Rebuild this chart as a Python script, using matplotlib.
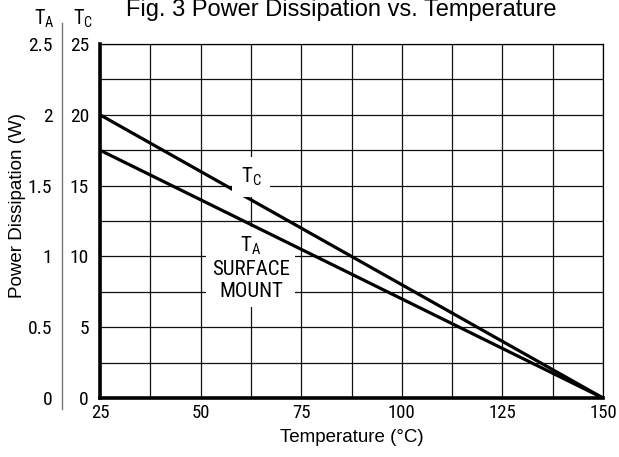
import matplotlib
matplotlib.use("Agg")
import matplotlib.pyplot as plt
from matplotlib import font_manager
from matplotlib.lines import Line2D
from matplotlib.ticker import MultipleLocator

installed = {f.name for f in font_manager.fontManager.ttflist}
narrow_name = next((n for n in ['Liberation Sans Narrow', 'DejaVu Sans Condensed',
                                'Roboto Condensed', 'Open Sans Condensed']
                    if n in installed), None)

plt.rcParams['font.family'] = ['Liberation Sans', 'DejaVu Sans']
plt.rcParams['mathtext.fontset'] = 'custom'
plt.rcParams['mathtext.rm'] = narrow_name or 'Liberation Sans'

NARROW = [narrow_name or 'Liberation Sans', 'DejaVu Sans']

# data
temps = [25, 150]
tc_power = [20, 0]      # case temperature curve, W
ta_power = [1.75, 0]    # ambient, surface mount, W
x_ticks = [25, 50, 75, 100, 125, 150]
tc_ticks = [0, 5, 10, 15, 20, 25]
ta_ticks = [0, 0.5, 1, 1.5, 2, 2.5]
ta_labels = ['0', '0.5', '1', '1.5', '2', '2.5']

fig = plt.figure(figsize=(6.19, 4.57), dpi=100)
ax = fig.add_axes([100/619, 1 - 398/457, 503/619, 354/457])

ax.set_xlim(25, 150)
ax.set_ylim(0, 25)
ax.set_xticks(x_ticks)
ax.xaxis.set_minor_locator(MultipleLocator(12.5))
ax.set_yticks(tc_ticks)
ax.yaxis.set_minor_locator(MultipleLocator(2.5))
ax.grid(True, which='both', color='#111111', lw=0.9)
ax.tick_params(which='both', length=0)
ax.tick_params(axis='x', pad=4, labelsize=13.5)
ax.tick_params(axis='y', pad=8, labelsize=14)
for lab in ax.get_yticklabels() + ax.get_xticklabels():
    lab.set_family(NARROW)
for s in ('left', 'bottom'):
    ax.spines[s].set_linewidth(2.6)
for s in ('top', 'right'):
    ax.spines[s].set_linewidth(0.9)

ax.plot(temps, tc_power, color='black', lw=2.3, solid_capstyle='butt')

# second scale for T_A on the far left
ax2 = ax.twinx()
ax2.set_ylim(0, 2.5)
ax2.plot(temps, ta_power, color='black', lw=2.3, solid_capstyle='butt')
ax2.yaxis.tick_left()
ax2.spines['left'].set_position(('axes', -38/503))
for s in ax2.spines.values():
    s.set_visible(False)
ax2.set_yticks(ta_ticks)
ax2.set_yticklabels(ta_labels, family=NARROW, fontsize=14)
ax2.tick_params(axis='y', length=0, pad=7)

fig.add_artist(Line2D([62/619, 62/619], [1 - 409/457, 1 - 23/457],
                      transform=fig.transFigure, color='#777777', lw=1))
fig.text(55/619, 1 - 25/457, r'T$_\mathrm{A}$', family=NARROW, fontsize=14.5,
         ha='right', va='baseline')
fig.text(93/619, 1 - 25/457, r'T$_\mathrm{C}$', family=NARROW, fontsize=14.5,
         ha='right', va='baseline')

lab_size = 15 if narrow_name else 12.5
ax.text(62.5, 15.6, r'T$_\mathrm{C}$', family=NARROW, fontsize=lab_size,
        ha='center', va='center',
        bbox=dict(facecolor='white', edgecolor='none', pad=6))
ax.text(62.5, 9.2, 'T$_\\mathrm{A}$\nSURFACE\nMOUNT', family=NARROW,
        fontsize=lab_size, ha='center', va='center', multialignment='center',
        linespacing=1.2,
        bbox=dict(facecolor='white', edgecolor='none', pad=4))

ax.set_xlabel('Temperature (°C)', fontsize=13.5, labelpad=5)
fig.text(18/619, 1 - 205/457, 'Power Dissipation (W)', fontsize=13.5,
         rotation=90, ha='center', va='center')
fig.text(341/619, 1 - 16/457, 'Fig. 3 Power Dissipation vs. Temperature',
         fontsize=17, ha='center', va='baseline')

fig.savefig('out.png', dpi=100)
